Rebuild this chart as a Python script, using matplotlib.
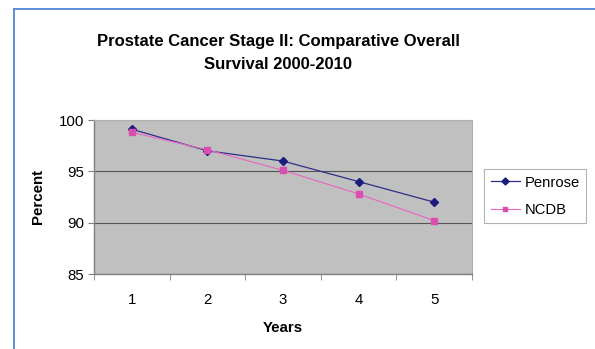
import matplotlib.pyplot as plt
from matplotlib.lines import Line2D

plt.rcParams['font.family'] = ['Liberation Sans', 'DejaVu Sans']

# Five-year overall survival, stage II prostate cancer
years = [1, 2, 3, 4, 5]
year_labels = ['1', '2', '3', '4', '5']
penrose = [99.1, 97.0, 96.0, 94.0, 92.0]
ncdb = [98.8, 97.1, 95.1, 92.8, 90.2]

fig = plt.figure(figsize=(5.95, 3.49), dpi=100)
fig.patch.set_facecolor('white')

# Blue frame along the top and left edge of the chart
fig.add_artist(Line2D([14 / 595, 14 / 595], [0, 1 - 9 / 349], transform=fig.transFigure,
                      color='#4f86d6', lw=1.3))
fig.add_artist(Line2D([14 / 595, 1], [1 - 9 / 349, 1 - 9 / 349], transform=fig.transFigure,
                      color='#4f86d6', lw=1.3))

ax = fig.add_axes([94 / 595, 1 - 274 / 349, 378 / 595, 154 / 349])
ax.set_facecolor('#c0c0c0')

ax.plot(years, penrose, color='#2e2e88', lw=0.9, marker='D', markersize=4.2,
        markerfacecolor='#1c1c80', markeredgecolor='#1c1c80', label='Penrose', zorder=3)
ax.plot(years, ncdb, color='#e866c4', lw=0.8, marker='s', markersize=4.2,
        markerfacecolor='#d94fb0', markeredgecolor='#d94fb0', label='NCDB', zorder=3)

ax.set_xlim(0.5, 5.5)
ax.set_ylim(85, 100)
ax.set_yticks([85, 90, 95, 100])
ax.set_xticks(years)
ax.set_xticklabels(year_labels)
ax.set_xticks([0.5, 1.5, 2.5, 3.5, 4.5, 5.5], minor=True)
ax.tick_params(axis='x', which='major', length=0, pad=14, labelsize=10.8)
ax.tick_params(axis='x', which='minor', length=4, color='#808080', direction='out')
ax.tick_params(axis='y', length=4, color='#808080', direction='out', labelsize=10.8, pad=3)

ax.grid(axis='y', color='#555555', lw=0.8)
ax.set_axisbelow(True)
for side in ['left', 'bottom']:
    ax.spines[side].set_color('#808080')
    ax.spines[side].set_linewidth(1.0)
for side in ['top', 'right']:
    ax.spines[side].set_color('#b0b0b0')
    ax.spines[side].set_linewidth(0.8)

ax.set_xlabel('Years', fontsize=10.8, fontweight='bold', labelpad=10)
ax.set_ylabel('Percent', fontsize=10.8, fontweight='bold', labelpad=10)

fig.text(278 / 595, 1 - 53 / 349,
         'Prostate Cancer Stage II: Comparative Overall\nSurvival 2000-2010',
         ha='center', va='center', fontsize=12, fontweight='bold', linespacing=1.6)

leg = fig.legend(loc='upper left', bbox_to_anchor=(484 / 595, 1 - 169 / 349),
                 borderaxespad=0, fontsize=10.6, frameon=True, fancybox=False,
                 handlelength=2.0, labelspacing=0.9, borderpad=0.45, handletextpad=0.3,
                 markerscale=0.85)
leg.get_frame().set_edgecolor('#a0a0a0')
leg.get_frame().set_linewidth(0.8)

fig.savefig('out.png', dpi=100, facecolor='white')
